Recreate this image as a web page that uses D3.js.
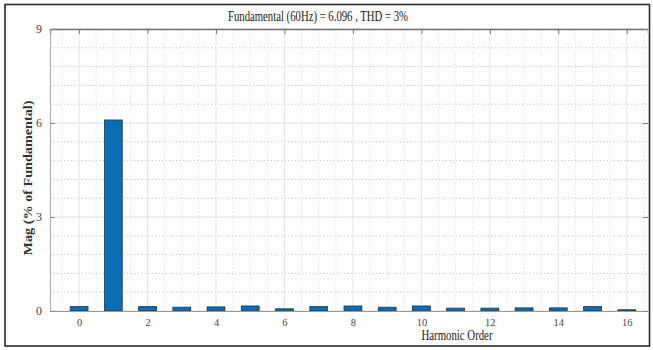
<!DOCTYPE html>
<html>
<head>
<meta charset="utf-8">
<script src="https://cdn.jsdelivr.net/npm/d3@7"></script>
<style>
  html, body { margin: 0; padding: 0; background: #fff; }
  svg { display: block; }
</style>
</head>
<body>
<svg id="chart" width="653" height="350"></svg>
<script>
// Harmonic spectrum: magnitude of each harmonic order
const harmonicOrders = [0, 1, 2, 3, 4, 5, 6, 7, 8, 9, 10, 11, 12, 13, 14, 15, 16];
const magnitudes = [0.14, 6.096, 0.14, 0.12, 0.13, 0.16, 0.07, 0.14, 0.16, 0.12, 0.16, 0.09, 0.09, 0.10, 0.10, 0.14, 0.04];
const xTickValues = [0, 2, 4, 6, 8, 10, 12, 14, 16];
const yTickValues = [0, 3, 6, 9];
const titleText = "Fundamental (60Hz) = 6.096 , THD = 3%";
const xLabelText = "Harmonic Order";
const yLabelText = "Mag (% of Fundamental)";

const svg = d3.select("#chart");
const plot = { left: 50, right: 648, top: 29, bottom: 311 };

// outer frame
svg.append("rect")
  .attr("x", 5).attr("y", 4.5).attr("width", 644.5).attr("height", 341.5)
  .attr("fill", "#fff").attr("stroke", "#2b2b2b").attr("stroke-width", 1.6);

const x = d3.scaleLinear().domain([-0.85, 16.62]).range([plot.left, plot.right]);
const y = d3.scaleLinear().domain([0, 9]).range([plot.bottom, plot.top]);
const barW = x(0.52) - x(0);

const g = svg.append("g");

// minor grid
const minorY = d3.range(0, 9.0001, 0.6).filter(v => !yTickValues.some(t => Math.abs(t - v) < 1e-6));
g.append("g").selectAll("line").data(minorY).join("line")
  .attr("x1", plot.left).attr("x2", plot.right)
  .attr("y1", d => y(d)).attr("y2", d => y(d))
  .attr("stroke", "#c9c9c9").attr("stroke-width", 1).attr("stroke-dasharray", "1.5,2");
const minorX = d3.range(-0.5, 16.6, 0.5).filter(v => !xTickValues.some(t => Math.abs(t - v) < 1e-6));
g.append("g").selectAll("line").data(minorX).join("line")
  .attr("x1", d => x(d)).attr("x2", d => x(d))
  .attr("y1", plot.top).attr("y2", plot.bottom)
  .attr("stroke", "#e2e2e2").attr("stroke-width", 1).attr("stroke-dasharray", "1.5,2");

// major grid
g.append("g").selectAll("line").data(yTickValues).join("line")
  .attr("x1", plot.left).attr("x2", plot.right)
  .attr("y1", d => y(d)).attr("y2", d => y(d))
  .attr("stroke", "#dcdcdc").attr("stroke-width", 1);
g.append("g").selectAll("line").data(xTickValues).join("line")
  .attr("x1", d => x(d)).attr("x2", d => x(d))
  .attr("y1", plot.top).attr("y2", plot.bottom)
  .attr("stroke", "#e4e4e4").attr("stroke-width", 1);

// bars
g.append("g").selectAll("rect").data(harmonicOrders).join("rect")
  .attr("x", (d) => x(d) - barW / 2)
  .attr("width", barW)
  .attr("y", (d, i) => y(magnitudes[i]))
  .attr("height", (d, i) => y(0) - y(magnitudes[i]))
  .attr("fill", "#0b6db5")
  .attr("stroke", "#1d3f5e").attr("stroke-width", 0.9);

// axes
const xAxisB = d3.axisBottom(x).tickValues(xTickValues).tickSize(0).tickPadding(8);
const gxb = svg.append("g").attr("transform", `translate(0,${plot.bottom})`).call(xAxisB);
gxb.select(".domain").attr("stroke", "#9a9a9a").attr("stroke-width", 1.2);
gxb.selectAll("text").attr("font-family", "Liberation Serif, serif").attr("font-size", 11)
  .attr("fill", "#444").attr("transform", "scale(0.85,1)")
  .attr("x", function() { return 0; });
// keep narrow labels centred on their ticks
gxb.selectAll(".tick text").attr("transform", null).attr("font-size", 10.5);

const xAxisT = d3.axisTop(x).tickValues(xTickValues).tickSize(-5).tickFormat("");
const gxt = svg.append("g").attr("transform", `translate(0,${plot.top})`).call(xAxisT);
gxt.select(".domain").attr("stroke", "#707070").attr("stroke-width", 1.5);
gxt.selectAll(".tick line").attr("stroke", "#777");

const yAxisL = d3.axisLeft(y).tickValues(yTickValues).tickSize(-5).tickPadding(8);
const gyl = svg.append("g").attr("transform", `translate(${plot.left},0)`).call(yAxisL);
gyl.select(".domain").attr("stroke", "#aaa").attr("stroke-width", 1);
gyl.selectAll(".tick line").attr("stroke", "#888");
gyl.selectAll("text").attr("font-family", "Liberation Serif, serif").attr("font-size", 12).attr("fill", "#444");

const yAxisR = d3.axisRight(y).tickValues(yTickValues).tickSize(-5).tickFormat("");
const gyr = svg.append("g").attr("transform", `translate(${plot.right},0)`).call(yAxisR);
gyr.select(".domain").attr("stroke", "#bbb").attr("stroke-width", 1);
gyr.selectAll(".tick line").attr("stroke", "#888");

// title
svg.append("text")
  .attr("x", 318).attr("y", 21)
  .attr("text-anchor", "middle")
  .attr("font-family", "Liberation Serif, serif").attr("font-size", 14.5)
  .attr("textLength", 180).attr("lengthAdjust", "spacingAndGlyphs")
  .attr("fill", "#1a1a1a")
  .text(titleText);

// x label
svg.append("text")
  .attr("x", 457).attr("y", 340)
  .attr("text-anchor", "middle")
  .attr("font-family", "Liberation Serif, serif").attr("font-size", 15)
  .attr("textLength", 71).attr("lengthAdjust", "spacingAndGlyphs")
  .attr("fill", "#1a1a1a")
  .text(xLabelText);

// y label
svg.append("text")
  .attr("transform", "translate(32,178) rotate(-90)")
  .attr("text-anchor", "middle")
  .attr("font-family", "Liberation Serif, serif").attr("font-size", 12.5).attr("font-weight", "bold")
  .attr("textLength", 155).attr("lengthAdjust", "spacingAndGlyphs")
  .attr("fill", "#333")
  .text(yLabelText);
</script>
</body>
</html>
